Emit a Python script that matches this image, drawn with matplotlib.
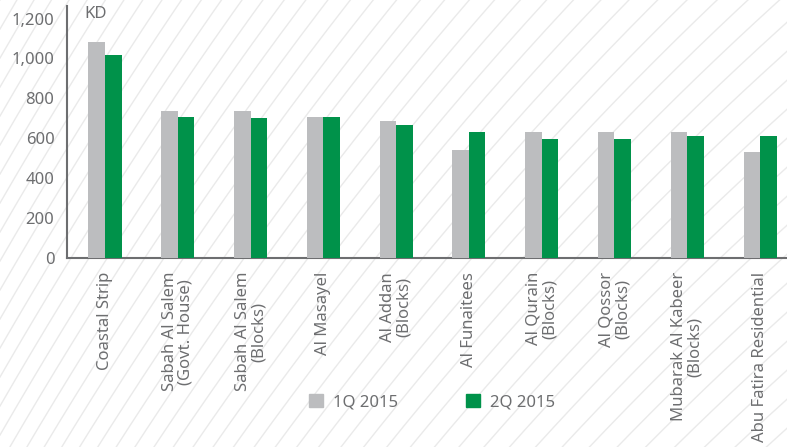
import numpy as np
import matplotlib
matplotlib.use("Agg")
import matplotlib.pyplot as plt
from matplotlib.patches import Patch

categories = [
    "Coastal Strip",
    "Sabah Al Salem\n(Govt. House)",
    "Sabah Al Salem\n(Blocks)",
    "Al Masayel",
    "Al Addan\n(Blocks)",
    "Al Funaitees",
    "Al Qurain\n(Blocks)",
    "Al Qossor\n(Blocks)",
    "Mubarak Al Kabeer\n(Blocks)",
    "Abu Fatira Residential",
]
q1_2015 = [1083, 737, 737, 707, 687, 541, 632, 632, 632, 531]
q2_2015 = [1018, 707, 702, 707, 667, 632, 597, 597, 612, 612]
series_names = ["1Q 2015", "2Q 2015"]

GREY = "#bcbdbf"
GREEN = "#00924a"
TEXT = "#6d6e70"
FS = 12

plt.rcParams["font.family"] = ["Noto Sans", "DejaVu Sans"]

W, H = 787, 447
fig = plt.figure(figsize=(W / 100, H / 100), dpi=100)

# decorative curved hatch in the background
bg = fig.add_axes([0, 0, 1, 1], zorder=-1)
bg.set_xlim(0, W)
bg.set_ylim(H, 0)
bg.axis("off")
xs = np.linspace(0, W, 200)
theta = np.radians(60 - 18 * xs / W)
slope = np.tan(theta)
f = -np.concatenate([[0], np.cumsum((slope[1:] + slope[:-1]) / 2 * np.diff(xs))])
for k in range(0, 60):
    bg.plot(xs, f + k * 29, color="#eaeaea", lw=1.0)

ax = fig.add_axes([67 / W, 1 - 258 / H, 1 - 67 / W, (258 - 6) / H])
ax.set_facecolor("none")
x = np.arange(len(categories))
bw = 0.227
ax.bar(x - bw / 2, q1_2015, bw, color=GREY, zorder=3)
ax.bar(x + bw / 2, q2_2015, bw, color=GREEN, zorder=3)

ax.set_xlim(-0.522, 9.37)
ax.set_ylim(0, 1263)
ax.set_yticks(range(0, 1201, 200))
ax.set_yticklabels([f"{v:,}" for v in range(0, 1201, 200)])
ax.set_xticks(x)
ax.set_xticklabels(categories, rotation=90, ha="center", va="top",
                   multialignment="center", linespacing=1.0)
ax.tick_params(axis="both", length=0, colors=TEXT, labelsize=FS)
ax.tick_params(axis="y", pad=9)
ax.tick_params(axis="x", pad=10)
for s in ["top", "right"]:
    ax.spines[s].set_visible(False)
for s in ["left", "bottom"]:
    ax.spines[s].set_color(TEXT)
    ax.spines[s].set_linewidth(1.5)

fig.text(84 / W, 1 - 14 / H, "KD", color=TEXT, fontsize=FS, va="center", ha="left")

handles = [Patch(color=GREY), Patch(color=GREEN)]
fig.legend(handles, series_names, loc="center", bbox_to_anchor=(432 / W, 1 - 402 / H),
           ncol=2, frameon=False, handlelength=0.85, handleheight=0.85,
           columnspacing=4.1, handletextpad=0.6, labelcolor=TEXT, fontsize=FS)

fig.savefig("out.png", dpi=100)
